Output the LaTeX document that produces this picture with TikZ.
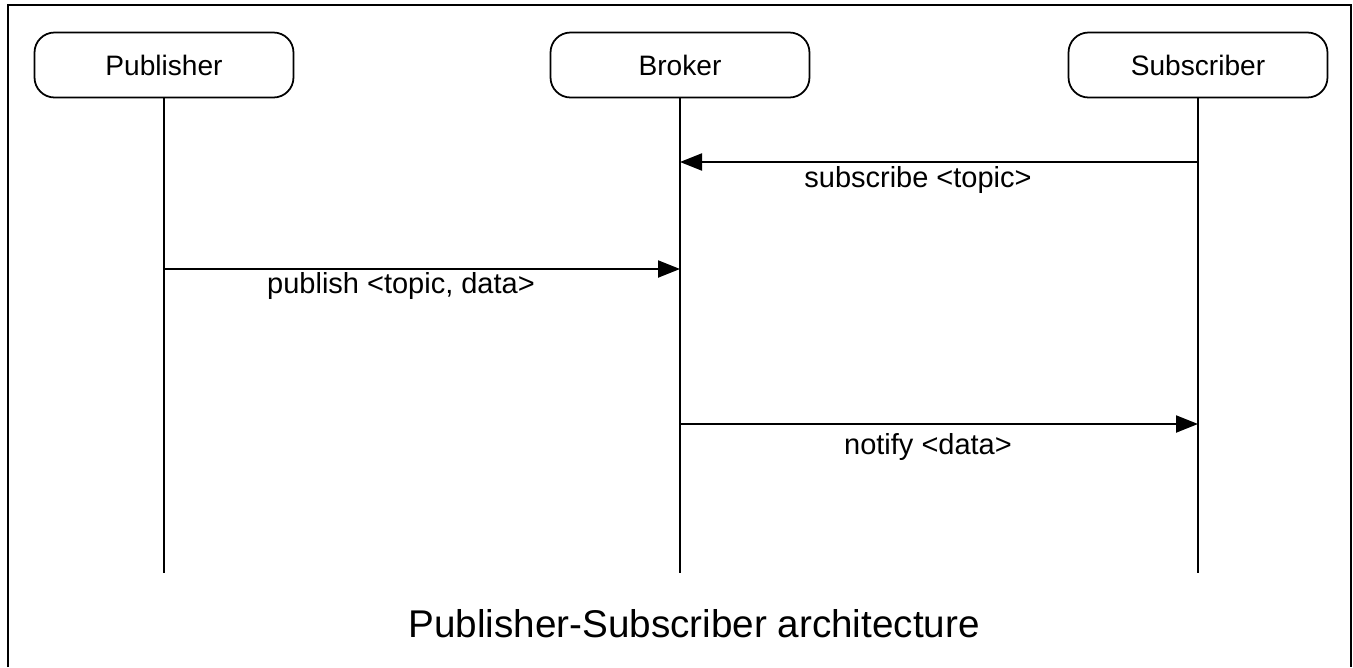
\documentclass[tikz,border=0pt]{standalone}
\usepackage{fontspec}
\setmainfont{Liberation Sans}
\usetikzlibrary{arrows.meta, positioning}

\tikzset{
  actor/.style={draw, rounded corners=0.4cm, minimum width=5.18cm, minimum height=1.3cm,
    line width=1pt, font=\fontsize{16}{19}\selectfont},
  lifeline/.style={line width=1.2pt},
  msg/.style={line width=1.2pt, -{Triangle[length=0.44cm, width=0.34cm]}},
  msglabel/.style={anchor=base, inner sep=0pt, font=\fontsize{16.5}{20}\selectfont}
}

\begin{document}
\begin{tikzpicture}[x=0.02cm, y=-0.02cm]
  \useasboundingbox (0,0) rectangle (1353,667);
  \draw[line width=1pt] (8,667) -- (8,5) -- (1351,5) -- (1351,667);

  % participants
  \node[actor] (pub) at (164,65) {Publisher};
  \node[actor] (brk) at (680,65) {Broker};
  \node[actor] (sub) at (1198,65) {Subscriber};

  % lifelines
  \coordinate (pub-end) at (pub.south |- 0,573);
  \coordinate (brk-end) at (brk.south |- 0,573);
  \coordinate (sub-end) at (sub.south |- 0,573);
  \draw[lifeline] (pub.south) -- (pub-end);
  \draw[lifeline] (brk.south) -- (brk-end);
  \draw[lifeline] (sub.south) -- (sub-end);

  % messages
  \coordinate (sub-1) at (sub.south |- 0,162);
  \coordinate (brk-1) at (brk.south |- 0,162);
  \coordinate (pub-2) at (pub.south |- 0,269);
  \coordinate (brk-2) at (brk.south |- 0,269);
  \coordinate (brk-3) at (brk.south |- 0,424);
  \coordinate (sub-3) at (sub.south |- 0,424);
  \draw[msg] (sub-1) -- (brk-1);
  \draw[msg] (pub-2) -- (brk-2);
  \draw[msg] (brk-3) -- (sub-3);
  \node[msglabel] (l-sub) at (918,187) {subscribe <topic>};
  \node[msglabel] (l-pub) at (401,293) {publish <topic, data>};
  \node[msglabel] (l-not) at (928,454) {notify <data>};

  \node[anchor=base, inner sep=0pt, font=\fontsize{22}{26}\selectfont] (title) at (694,637)
    {Publisher-Subscriber architecture};
\end{tikzpicture}
\end{document}
